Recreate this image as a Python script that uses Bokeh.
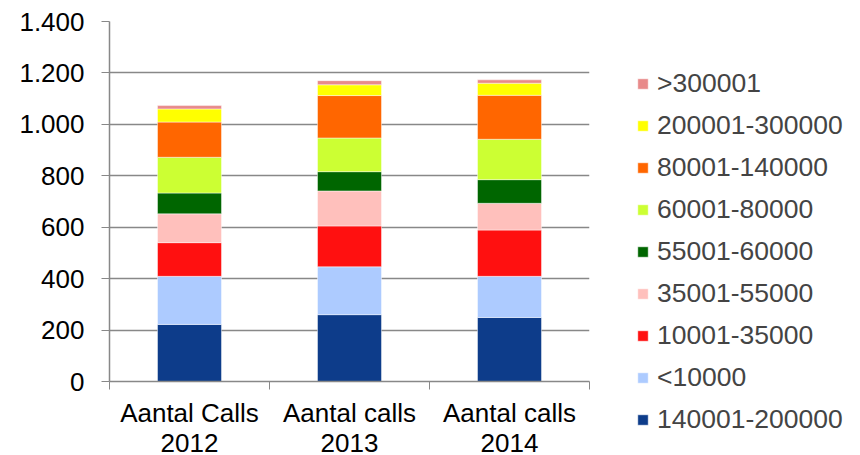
from bokeh.plotting import figure
from bokeh.models import ColumnDataSource, Range1d, FixedTicker, Legend, LegendItem
from bokeh.embed import file_html
from bokeh.resources import INLINE

categories = ["Aantal Calls\n2012", "Aantal calls\n2013", "Aantal calls\n2014"]
series_names = ["140001-200000", "<10000", "10001-35000", "35001-55000", "55001-60000",
                "60001-80000", "80001-140000", "200001-300000", ">300001"]
s_140001_200000 = [222, 260, 249]
s_lt_10000 = [187, 186, 160]
s_10001_35000 = [131, 159, 180]
s_35001_55000 = [112, 136, 104]
s_55001_60000 = [81, 75, 92]
s_60001_80000 = [139, 131, 157]
s_80001_140000 = [137, 165, 171]
s_200001_300000 = [51, 42, 47]
s_gt_300001 = [13, 16, 13]
series_values = [s_140001_200000, s_lt_10000, s_10001_35000, s_35001_55000, s_55001_60000,
                 s_60001_80000, s_80001_140000, s_200001_300000, s_gt_300001]
colors = ["#0D3C8A", "#ADCBFF", "#FF1010", "#FFC0BC", "#006600",
          "#CCFF33", "#FF6600", "#FFFF00", "#E88A8A"]
y_ticks = [0, 200, 400, 600, 800, 1000, 1200, 1400]

FONT = "Liberation Sans"
FS = "26px"

xs = [i + 0.5 for i in range(len(categories))]
keys = ["s%d" % i for i in range(len(series_names))]
data = {"x": xs}
for k, v in zip(keys, series_values):
    data[k] = v
src = ColumnDataSource(data)

p = figure(frame_width=480, frame_height=360, output_backend="svg", toolbar_location=None,
           x_range=Range1d(0, len(categories)), y_range=Range1d(0, 1400),
           min_border_left=109, min_border_top=21, min_border_right=10, min_border_bottom=74)
p.outline_line_color = None
p.background_fill_color = "white"

rs = p.vbar_stack(keys, x="x", width=0.4, color=colors, source=src,
                  line_color="white", line_alpha=0.45, line_width=1)

# y axis
p.yaxis.ticker = FixedTicker(ticks=y_ticks)
p.yaxis.major_label_overrides = {t: ("{:,}".format(t).replace(",", ".")) for t in y_ticks}
p.yaxis.minor_tick_line_color = None
p.yaxis.major_tick_out = 8
p.yaxis.major_tick_in = 0
p.yaxis.major_label_standoff = 17
p.yaxis.axis_line_color = "#888888"
p.yaxis.major_tick_line_color = "#888888"
p.yaxis.axis_line_width = 1.5
p.yaxis.major_label_text_font = FONT
p.yaxis.major_label_text_font_size = FS
p.yaxis.major_label_text_color = "black"

# x axis
p.xaxis.ticker = FixedTicker(ticks=xs, minor_ticks=[float(i) for i in range(len(categories) + 1)])
p.xaxis.major_label_overrides = {x: c for x, c in zip(xs, categories)}
p.xaxis.major_tick_line_color = None
p.xaxis.major_tick_out = 0
p.xaxis.major_tick_in = 0
p.xaxis.minor_tick_out = 8
p.xaxis.minor_tick_in = 0
p.xaxis.minor_tick_line_color = "#888888"
p.xaxis.axis_line_color = "#888888"
p.xaxis.axis_line_width = 1.5
p.xaxis.major_label_standoff = 8
p.xaxis.major_label_text_font = FONT
p.xaxis.major_label_text_font_size = FS
p.xaxis.major_label_text_color = "black"
p.xaxis.major_label_text_line_height = 1.0

p.xgrid.grid_line_color = None
p.ygrid.ticker = FixedTicker(ticks=y_ticks)
p.ygrid.grid_line_color = "#888888"
p.ygrid.grid_line_width = 1.5

items = [LegendItem(label=n, renderers=[r]) for n, r in zip(series_names, rs)][::-1]
legend = Legend(items=items, location="top_left", margin=47, padding=10,
                border_line_color=None, background_fill_alpha=0,
                glyph_width=13, glyph_height=13, label_standoff=8,
                label_text_font=FONT, label_text_font_size="26.5px", label_height=30,
                spacing=11)
p.add_layout(legend, "right")

open("out.html", "w").write(file_html(p, INLINE))
